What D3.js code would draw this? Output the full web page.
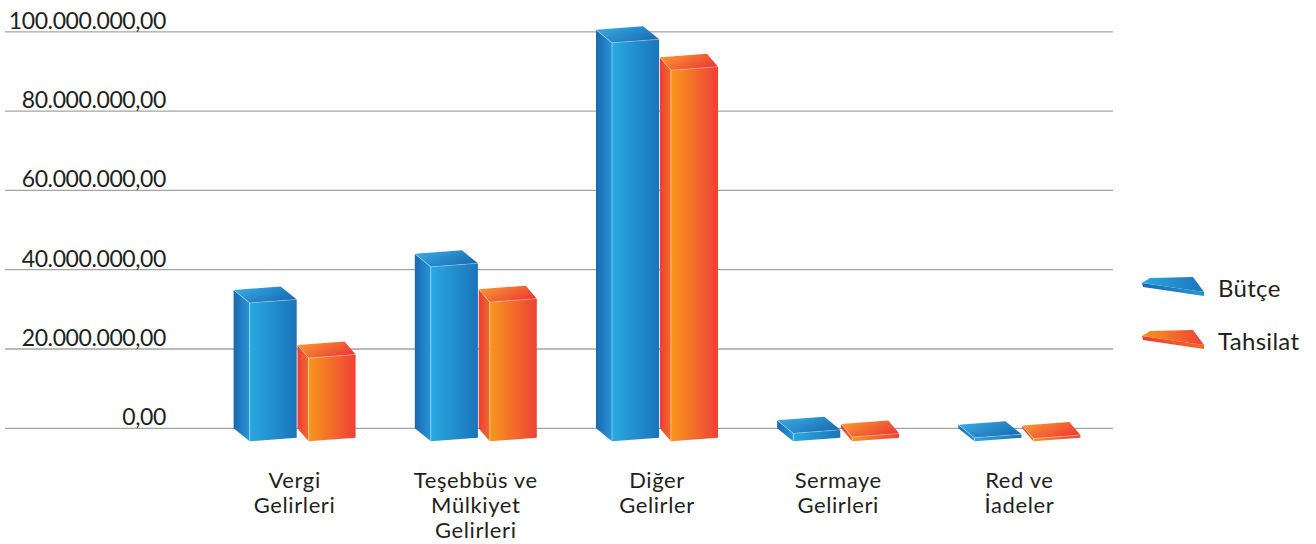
<!DOCTYPE html>
<html>
<head>
<meta charset="utf-8">
<script src="https://cdn.jsdelivr.net/npm/d3@7"></script>
<style>
  body { margin: 0; background: #fff; }
  svg { display: block; font-family: Lato, "Open Sans", sans-serif; }
</style>
</head>
<body>
<svg id="chart" width="1316" height="544"></svg>
<script>
// ---- data
const categories = ["Vergi Gelirleri", "Teşebbüs ve Mülkiyet Gelirleri", "Diğer Gelirler", "Sermaye Gelirleri", "Red ve İadeler"];
const categoryLines = [["Vergi", "Gelirleri"], ["Teşebbüs ve", "Mülkiyet", "Gelirleri"], ["Diğer", "Gelirler"], ["Sermaye", "Gelirleri"], ["Red ve", "İadeler"]];
const seriesNames = ["Bütçe", "Tahsilat"];
const butce = [34.9e6, 44.0e6, 100.5e6, 2.0e6, 0.9e6];
const tahsilat = [21.0e6, 35.1e6, 93.6e6, 1.1e6, 0.7e6];
const tickValues = [0, 20e6, 40e6, 60e6, 80e6, 100e6];
const tickLabels = ["0,00", "20.000.000,00", "40.000.000,00", "60.000.000,00", "80.000.000,00", "100.000.000,00"];

const seriesValues = {"Bütçe": butce, "Tahsilat": tahsilat};

// ---- look
const style = {
  "Bütçe":    {dx: 16, front: ["#29a9e1", "#1b74bb"], side: ["#1a68b0", "#2796d8"], top: ["#3cb0e6", "#1a6db5"]},
  "Tahsilat": {dx: 11, front: ["#f8971d", "#ef4136"], side: ["#ee3d35", "#f26a2a"], top: ["#f9a132", "#ee3c34"]}
};
const dy = 13, tilt = -3.5;

const svg = d3.select("#chart");

// gradients
const defs = svg.append("defs");
function grad(id, c, x2, y2) {
  const g = defs.append("linearGradient").attr("id", id)
    .attr("x1", 0).attr("y1", 0).attr("x2", x2).attr("y2", y2);
  g.append("stop").attr("offset", "0%").attr("stop-color", c[0]);
  g.append("stop").attr("offset", "100%").attr("stop-color", c[1]);
}
seriesNames.forEach((s, i) => {
  grad("front" + i, style[s].front, 1, 0);
  grad("side" + i, style[s].side, 1, 0);
  grad("top" + i, style[s].top, 1, 0.6);
});

// scales
const y = d3.scaleLinear().domain([0, 100e6]).range([428.3, 31.8]);
const x = d3.scaleBand().domain(categories).range([204, 1110]);
const xs = d3.scaleBand().domain(seriesNames).range([-45, 61]).paddingInner(0.2);

// gridlines + y labels
const grid = svg.append("g");
grid.selectAll("line").data(tickValues).enter().append("line")
  .attr("x1", 5).attr("x2", 1113)
  .attr("y1", d => y(d)).attr("y2", d => y(d))
  .attr("stroke", "#a3a3a3").attr("stroke-width", 1.3);
grid.selectAll("text").data(tickValues).enter().append("text")
  .attr("x", 166).attr("y", d => y(d) - 3)
  .attr("text-anchor", "end")
  .attr("font-size", 23).attr("letter-spacing", -0.4)
  .attr("fill", "#231f20")
  .text((d, i) => tickLabels[i]);

// bars
const line = d3.line();
const w = xs.bandwidth();
const y0 = y(0);
categories.forEach((c, ci) => {
  const cx = x(c) + x.bandwidth() / 2;
  seriesNames.forEach((s, si) => {
    const v = seriesValues[s][ci];
    const xf = cx + xs(s);
    const yv = y(v);
    const dx = style[s].dx;
    const g = svg.append("g").attr("class", "bar");
    g.append("path")
      .attr("d", line([[xf - dx, yv], [xf, yv + dy], [xf, y0 + dy], [xf - dx, y0]]) + "Z")
      .attr("fill", `url(#side${si})`);
    g.append("path")
      .attr("d", line([[xf, yv + dy], [xf + w, yv + dy + tilt], [xf + w, y0 + dy + tilt], [xf, y0 + dy]]) + "Z")
      .attr("fill", `url(#front${si})`);
    g.append("path")
      .attr("d", line([[xf - dx, yv], [xf + w - dx, yv + tilt], [xf + w, yv + dy + tilt], [xf, yv + dy]]) + "Z")
      .attr("fill", `url(#top${si})`);
    // light edge highlight
    g.append("path")
      .attr("d", line([[xf - dx, yv], [xf, yv + dy], [xf, y0 + dy]]))
      .attr("fill", "none").attr("stroke", "rgba(255,255,255,0.45)").attr("stroke-width", 0.9);
    g.append("path")
      .attr("d", line([[xf, yv + dy], [xf + w, yv + dy + tilt]]))
      .attr("fill", "none").attr("stroke", "rgba(255,255,255,0.35)").attr("stroke-width", 0.8);
  });
});

// category labels
categories.forEach((c, ci) => {
  const cx = x(c) + x.bandwidth() / 2;
  const t = svg.append("text")
    .attr("text-anchor", "middle")
    .attr("font-size", 22).attr("letter-spacing", 0.6)
    .attr("fill", "#231f20");
  categoryLines[ci].forEach((l, li) => {
    t.append("tspan").attr("x", cx).attr("y", 488 + li * 25).text(l);
  });
});

// legend
const legend = svg.append("g");
seriesNames.forEach((s, si) => {
  const oy = si * 53;
  const g = legend.append("g").attr("transform", `translate(0,${oy})`);
  g.append("path")
    .attr("d", line([[1142, 283], [1204, 292], [1204, 296], [1143, 287]]) + "Z")
    .attr("fill", `url(#side${si})`);
  g.append("path")
    .attr("d", line([[1150, 278], [1193, 277], [1204, 292], [1142, 283]]) + "Z")
    .attr("fill", `url(#front${si})`);
  g.append("text")
    .attr("x", 1218).attr("y", 297)
    .attr("font-size", 24).attr("letter-spacing", 0.3)
    .attr("fill", "#231f20")
    .text(s);
});
</script>
</body>
</html>
